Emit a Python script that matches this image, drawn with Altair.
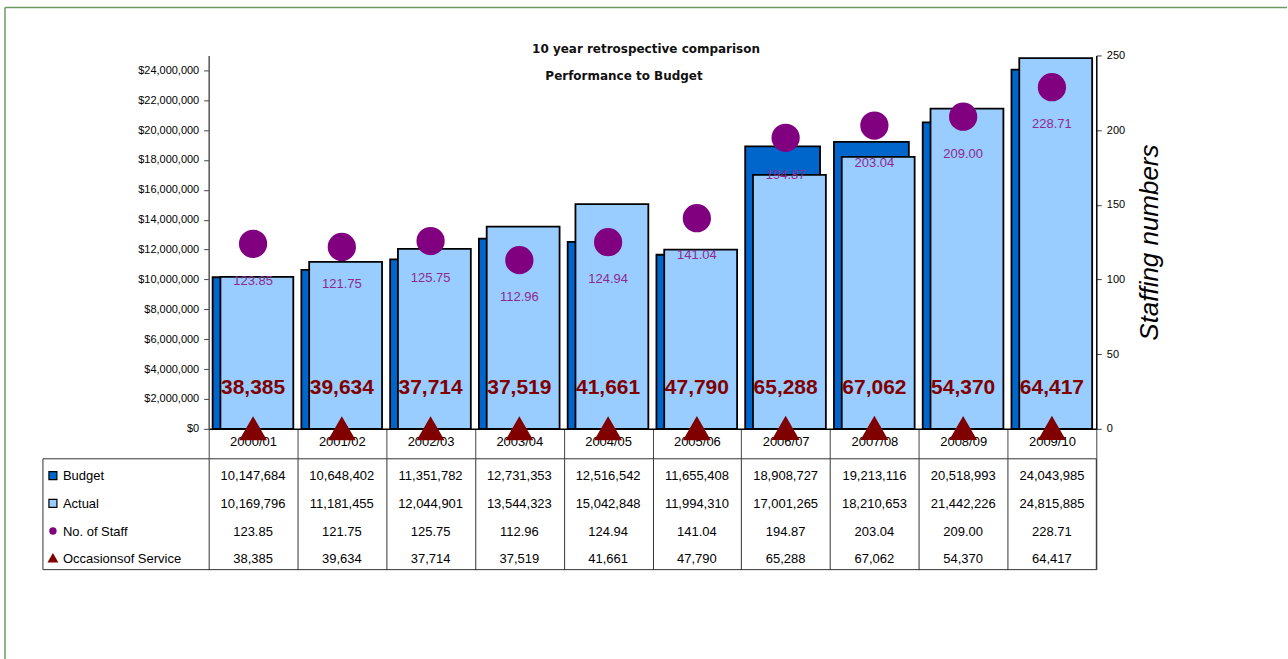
import altair as alt
import pandas as pd

years = ["2000/01", "2001/02", "2002/03", "2003/04", "2004/05",
         "2005/06", "2006/07", "2007/08", "2008/09", "2009/10"]
budget = [10147684, 10648402, 11351782, 12731353, 12516542,
          11655408, 18908727, 19213116, 20518993, 24043985]
actual = [10169796, 11181455, 12044901, 13544323, 15042848,
          11994310, 17001265, 18210653, 21442226, 24815885]
staff = [123.85, 121.75, 125.75, 112.96, 124.94,
         141.04, 194.87, 203.04, 209.00, 228.71]
occasions = [38385, 39634, 37714, 37519, 41661,
             47790, 65288, 67062, 54370, 64417]
row_names = ["Budget", "Actual", "No. of Staff", "Occasionsof Service"]
title_line1 = "10 year retrospective comparison"
title_line2 = "Performance to Budget"
money_ticks = [0, 2000000, 4000000, 6000000, 8000000, 10000000, 12000000,
               14000000, 16000000, 18000000, 20000000, 22000000, 24000000]
staff_ticks = [0, 50, 100, 150, 200, 250]

FONT = "Liberation Sans"
W, H = 889, 374
TABLE_H = 111
GREEN = "#6B9B63"

df = pd.DataFrame({
    "year": years,
    "budget": budget,
    "actual": actual,
    "staff": staff,
    "occasions": occasions,
})
df["occ_label"] = [f"{v:,}" for v in occasions]
df["staff_label"] = [f"{v:.2f}" for v in staff]

x_enc = alt.X(
    "year:N", sort=years,
    scale=alt.Scale(paddingInner=0, paddingOuter=0),
    axis=alt.Axis(title=None, labelFont=FONT, labelFontSize=13, labelColor="black",
                  labelAngle=0, domainColor="black", domainWidth=1.5,
                  tickColor="#444", tickSize=30, tickBand="extent",
                  labelPadding=-23, grid=False),
)

money_scale = alt.Scale(domain=[0, 25000000])
money_axis = alt.Axis(values=money_ticks, format="$,.0f", title=None,
                      labelFont=FONT, labelFontSize=11, labelColor="black",
                      labelOverlap=False, labelBound=False, tickCount=13,
                      tickSize=5, tickColor="#444", domainColor="#555",
                      domainWidth=1.5, labelPadding=5, grid=False)

base = alt.Chart(df)

budget_bars = base.mark_bar(width=75, xOffset=-3, color="#0066CC",
                            stroke="black", strokeWidth=1.8).encode(
    x=x_enc,
    y=alt.Y("budget:Q", scale=money_scale, axis=money_axis),
)
actual_bars = base.mark_bar(width=73, xOffset=3.8, color="#99CCFF",
                            stroke="black", strokeWidth=1.8).encode(
    x=x_enc,
    y=alt.Y("actual:Q", scale=money_scale, axis=money_axis),
)
triangles = base.mark_point(shape="triangle-up", filled=True, size=780,
                            color="#800000", opacity=1).encode(
    x=x_enc,
    y=alt.Y("occasions:Q", scale=money_scale, axis=money_axis),
)
occ_labels = base.mark_text(dy=-40, font=FONT, fontSize=21, fontWeight="bold",
                            color="#800000").encode(
    x=x_enc,
    y=alt.Y("occasions:Q", scale=money_scale, axis=money_axis),
    text="occ_label:N",
)
money_layer = alt.layer(budget_bars, actual_bars, triangles, occ_labels)

staff_scale = alt.Scale(domain=[0, 250])
staff_axis = alt.Axis(orient="right", values=staff_ticks, title="Staffing numbers",
                      titleFont=FONT, titleFontSize=26, titleFontStyle="italic",
                      titleFontWeight="normal", titleColor="black", titleAngle=270,
                      titleBaseline="top", titlePadding=12,
                      labelFont=FONT, labelFontSize=11, labelColor="black",
                      labelOverlap=False,
                      tickSize=5, tickColor="#444", domainColor="black",
                      domainWidth=1.5, labelPadding=5, grid=False)
circles = base.mark_circle(size=800, color="#800080", opacity=1).encode(
    x=x_enc,
    y=alt.Y("staff:Q", scale=staff_scale, axis=staff_axis),
)
staff_labels = base.mark_text(dy=37, font=FONT, fontSize=13, color="#8E2A92").encode(
    x=x_enc,
    y=alt.Y("staff:Q", scale=staff_scale, axis=staff_axis),
    text="staff_label:N",
)
staff_layer = alt.layer(circles, staff_labels)

one = alt.Chart(pd.DataFrame({"k": [0]}))
t1 = one.mark_text(font="DejaVu Sans", fontSize=12, fontWeight="bold", color="#111",
                   baseline="middle").encode(
    x=alt.value(438), y=alt.value(-6), text=alt.value(title_line1))
t2 = one.mark_text(font="DejaVu Sans", fontSize=12, fontWeight="bold", color="#111",
                   baseline="middle").encode(
    x=alt.value(416), y=alt.value(21), text=alt.value(title_line2))
frame_top = one.mark_rule(color=GREEN, strokeWidth=1.5).encode(
    x=alt.value(-204), x2=alt.value(1080), y=alt.value(-48))
frame_left = one.mark_rule(color=GREEN, strokeWidth=1.5).encode(
    x=alt.value(-204), y=alt.value(-48), y2=alt.value(605))

top = alt.layer(money_layer, staff_layer, t1, t2, frame_top, frame_left).resolve_scale(
    y="independent").properties(width=W, height=H)

# ---- data table ----
tbl_rows = []
for i, yr in enumerate(years):
    tbl_rows.append({"year": yr, "row": row_names[0], "label": f"{budget[i]:,}"})
    tbl_rows.append({"year": yr, "row": row_names[1], "label": f"{actual[i]:,}"})
    tbl_rows.append({"year": yr, "row": row_names[2], "label": f"{staff[i]:.2f}"})
    tbl_rows.append({"year": yr, "row": row_names[3], "label": f"{occasions[i]:,}"})
tbl = pd.DataFrame(tbl_rows)

row_y = alt.Y("row:N", sort=row_names,
              scale=alt.Scale(domain=row_names, paddingInner=0, paddingOuter=0),
              axis=None)
tbl_x = alt.X("year:N", sort=years,
              scale=alt.Scale(paddingInner=0, paddingOuter=0),
              axis=alt.Axis(grid=True, tickBand="extent", labels=False, ticks=False,
                            domain=False, title=None, gridColor="#333",
                            gridWidth=1, gridOpacity=1))

cells = alt.Chart(tbl).mark_text(font=FONT, fontSize=13, color="black", dy=3.5).encode(
    x=tbl_x, y=row_y, text="label:N")

leg = alt.Chart(pd.DataFrame({"row": row_names}))
leg_text = leg.mark_text(font=FONT, fontSize=13, color="black", align="left",
                         dy=3.5).encode(x=alt.value(-146), y=row_y, text="row:N")
leg_sq = leg.mark_square(size=64, stroke="black", strokeWidth=1.2, opacity=1).encode(
    x=alt.value(-156), y=row_y, yOffset=alt.value(3),
    color=alt.Color("row:N", scale=alt.Scale(domain=row_names[:2],
                                             range=["#0066CC", "#99CCFF"]),
                    legend=None),
).transform_filter(alt.FieldOneOfPredicate(field="row", oneOf=row_names[:2]))
leg_circ = leg.mark_circle(size=55, color="#800080", opacity=1).encode(
    x=alt.value(-156), y=row_y, yOffset=alt.value(3)
).transform_filter(alt.FieldEqualPredicate(field="row", equal=row_names[2]))
leg_tri = leg.mark_point(shape="triangle-up", filled=True, size=120,
                         color="#800000", opacity=1).encode(
    x=alt.value(-156), y=row_y, yOffset=alt.value(2)
).transform_filter(alt.FieldEqualPredicate(field="row", equal=row_names[3]))

line_color = "#333"
b_top = one.mark_rule(color=line_color, strokeWidth=1).encode(
    x=alt.value(-166), x2=alt.value(W), y=alt.value(0))
b_bot = one.mark_rule(color=line_color, strokeWidth=1).encode(
    x=alt.value(-166), x2=alt.value(W), y=alt.value(TABLE_H))
b_left = one.mark_rule(color=line_color, strokeWidth=1).encode(
    x=alt.value(-166), y=alt.value(0), y2=alt.value(TABLE_H))
b_right = one.mark_rule(color=line_color, strokeWidth=1).encode(
    x=alt.value(W), y=alt.value(0), y2=alt.value(TABLE_H))

bottom = alt.layer(cells, leg_text, leg_sq, leg_circ, leg_tri,
                   b_top, b_bot, b_left, b_right).properties(width=W, height=TABLE_H)

chart = alt.vconcat(top, bottom, spacing=30, bounds="flush").properties(
    padding={"left": 4, "top": 6, "right": 0, "bottom": 0}
).configure_view(strokeWidth=0)

chart.save("out.html", embed_options={"renderer": "svg", "actions": False})
